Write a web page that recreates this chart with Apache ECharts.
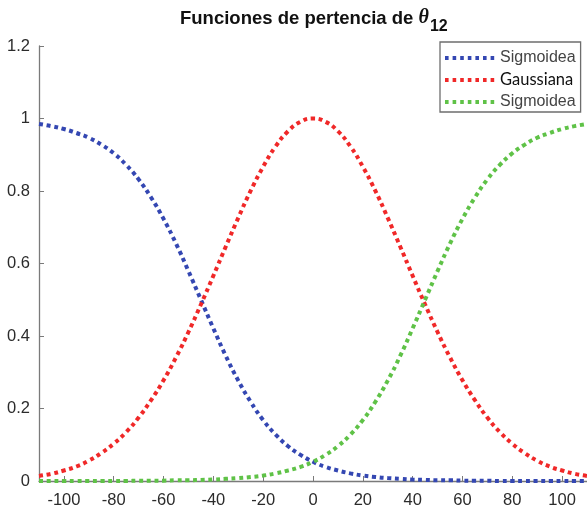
<!DOCTYPE html>
<html>
<head>
<meta charset="utf-8">
<script src="https://cdn.jsdelivr.net/npm/echarts@6/dist/echarts.min.js"></script>
<style>
html,body{margin:0;padding:0;background:#fff;}
#chart{width:587px;height:510px;}
</style>
</head>
<body>
<div id="chart"></div>
<script>
// x positions (theta_12) at which values were read
const xs = [-110,-105,-100,-95,-90,-85,-80,-75,-70,-65,-60,-55,-50,-45,-40,-35,-30,-25,-20,-15,-10,-5,0,5,10,15,20,25,30,35,40,45,50,55,60,65,70,75,80,85,90,95,100,105,110];
// Sigmoidea (decreasing, blue)
const sigmoidLow = [0.985,0.979,0.971,0.960,0.947,0.928,0.904,0.872,0.832,0.782,0.723,0.655,0.579,0.500,0.421,0.345,0.277,0.218,0.168,0.128,0.096,0.072,0.053,0.039,0.029,0.021,0.015,0.011,0.008,0.006,0.004,0.003,0.002,0.002,0.001,0.001,0.001,0.000,0.000,0.000,0.000,0.000,0.000,0.000,0.000];
// Gaussiana (red)
const gaussian = [0.014,0.020,0.029,0.040,0.056,0.077,0.103,0.135,0.175,0.223,0.278,0.341,0.411,0.487,0.566,0.647,0.726,0.801,0.867,0.923,0.965,0.991,1.000,0.991,0.965,0.923,0.867,0.801,0.726,0.647,0.566,0.487,0.411,0.341,0.278,0.223,0.175,0.135,0.103,0.077,0.056,0.040,0.029,0.020,0.014];
// Sigmoidea (increasing, green)
const sigmoidHigh = [0.000,0.000,0.000,0.000,0.000,0.000,0.000,0.000,0.001,0.001,0.001,0.002,0.002,0.003,0.004,0.006,0.008,0.011,0.015,0.021,0.029,0.039,0.053,0.072,0.096,0.128,0.168,0.218,0.277,0.345,0.421,0.500,0.579,0.655,0.723,0.782,0.832,0.872,0.904,0.928,0.947,0.960,0.971,0.979,0.985];
const xTickLabels = [-100,-80,-60,-40,-20,0,20,40,60,80,100];
const yTickLabels = [0,0.2,0.4,0.6,0.8,1,1.2];
const seriesNames = ['Sigmoidea','Gaussiana','Sigmoidea '];

const pair = (vals) => xs.map((x, i) => [x, vals[i]]);
const colors = ['#3447b2', '#f02828', '#5fc247'];
const dotted = (c) => ({ color: c, width: 4, type: [4, 3.7], cap: 'butt' });

const chart = echarts.init(document.getElementById('chart'), null, { renderer: 'canvas' });
chart.setOption({
  animation: false,
  backgroundColor: '#fff',
  title: {
    text: '{a|Funciones de pertencia de }{b|θ}{c|12}',
    left: 175,
    top: 3,
    textStyle: {
      rich: {
        a: { fontFamily: 'Liberation Sans', fontWeight: 'bold', fontSize: 18.5, color: '#111', padding: [0,0,7,0], verticalAlign: 'bottom' },
        b: { fontFamily: 'Liberation Serif', fontStyle: 'italic', fontSize: 20, color: '#111', padding: [0,1,7,0], verticalAlign: 'bottom' },
        c: { fontFamily: 'Liberation Sans', fontWeight: 'bold', fontSize: 16, color: '#111', verticalAlign: 'bottom' }
      }
    }
  },
  legend: {
    orient: 'vertical',
    left: 440,
    top: 42,
    padding: [8, 5, 2, 3],
    itemGap: 5.5,
    itemWidth: 53,
    itemHeight: 14,
    borderColor: '#6e6e6e',
    borderWidth: 1.3,
    borderRadius: 0,
    backgroundColor: '#fff',
    data: seriesNames,
    itemStyle: { color: 'rgba(0,0,0,0)', borderWidth: 0, opacity: 0 },
    lineStyle: { width: 4, type: [3.6, 4], cap: 'butt' },
    formatter: function (name) {
      return name === 'Gaussiana' ? '{g|Gaussiana}' : '{s|Sigmoidea}';
    },
    textStyle: {
      padding: [0,0,0,-3],
      rich: {
        s: { fontFamily: 'Liberation Sans', fontSize: 16, color: '#444' },
        g: { fontFamily: 'Lato', fontSize: 16.5, color: '#111' }
      }
    }
  },
  grid: { left: 39, top: 46, width: 548, bottom: 29, containLabel: false },
  xAxis: {
    type: 'value',
    min: -110,
    max: 110,
    interval: 10,
    axisLine: { show: true, onZero: false, lineStyle: { color: '#7a7a7a', width: 1.3 } },
    axisTick: { show: true, inside: true, length: 5, customValues: xTickLabels, lineStyle: { color: '#7a7a7a', width: 1 } },
    axisLabel: {
      customValues: xTickLabels,
      margin: 11,
      fontFamily: 'Liberation Sans', fontSize: 16.5, color: '#2b2b2b',
      showMinLabel: true, showMaxLabel: true
    },
    splitLine: { show: false }
  },
  yAxis: {
    type: 'value',
    min: 0,
    max: 1.2,
    interval: 0.2,
    axisLine: { show: true, onZero: false, lineStyle: { color: '#7a7a7a', width: 1.3 } },
    axisTick: { show: true, inside: true, length: 5, lineStyle: { color: '#7a7a7a', width: 1 } },
    axisLabel: {
      customValues: yTickLabels,
      margin: 9,
      fontFamily: 'Liberation Sans', fontSize: 16.5, color: '#2b2b2b'
    },
    splitLine: { show: false }
  },
  series: [
    { name: seriesNames[0], type: 'line', data: pair(sigmoidLow), smooth: true, symbol: 'none', lineStyle: dotted(colors[0]), itemStyle: { color: colors[0] }, z: 3 },
    { name: seriesNames[1], type: 'line', data: pair(gaussian), smooth: true, symbol: 'none', lineStyle: dotted(colors[1]), itemStyle: { color: colors[1] }, z: 4 },
    { name: seriesNames[2], type: 'line', data: pair(sigmoidHigh), smooth: true, symbol: 'none', lineStyle: dotted(colors[2]), itemStyle: { color: colors[2] }, z: 5 }
  ]
});
</script>
</body>
</html>
